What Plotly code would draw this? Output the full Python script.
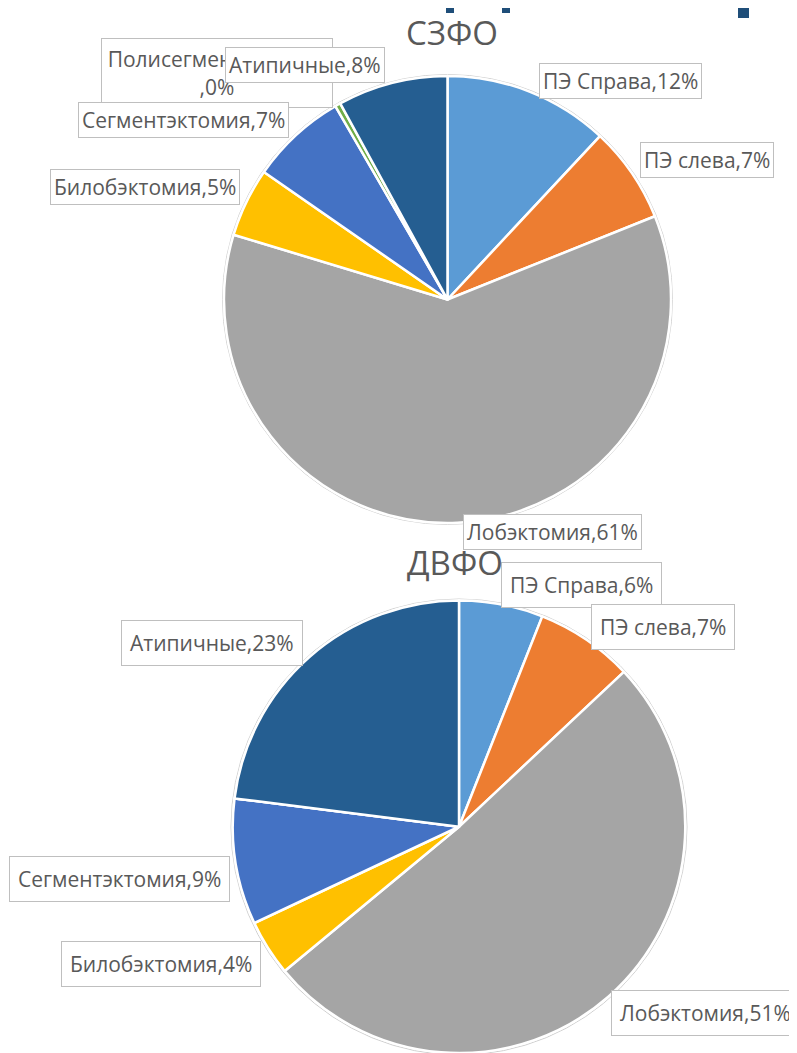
import plotly.graph_objects as go

# page body has an 8px margin; the figure is sized to the remaining area
OFF = 8
W, H = 797 - OFF, 1053 - OFF

categories = ["ПЭ Справа", "ПЭ слева", "Лобэктомия", "Билобэктомия",
              "Сегментэктомия", "Полисегментэктомия", "Атипичные"]
szfo_values = [12, 7, 61, 5, 7, 0.4, 8]
dvfo_values = [6, 7, 51, 4, 9, 0, 23]
colors = ["#5B9BD5", "#ED7D31", "#A5A5A5", "#FFC000", "#4472C4", "#70AD47", "#255E91"]

FONT = "Open Sans, Noto Sans, DejaVu Sans, sans-serif"
GREY = "#595959"

def px(x):
    return (x - OFF) / W

def py(y):
    return 1 - (y - OFF) / H

fig = go.Figure()

# pies: (values, title, centre px, radius px)
pies = [
    (szfo_values, "СЗФО", (447.5, 299.5), 223.5),
    (dvfo_values, "ДВФО", (459, 827), 226.5),
]
for vals, name, (cx, cy), r in pies:
    fig.add_trace(go.Pie(
        labels=categories, values=vals, sort=False, direction="clockwise",
        rotation=0, textinfo="none", showlegend=False, name=name,
        marker=dict(colors=colors, line=dict(color="white", width=2.5)),
        domain=dict(x=[px(cx - r), px(cx + r)],
                    y=[max(0, py(cy + r)), py(cy - r)]),
    ))
    fig.add_shape(type="circle", xref="paper", yref="paper", layer="below",
                  x0=px(cx - r - 1.5), x1=px(cx + r + 1.5),
                  y0=py(cy + r + 1.5), y1=py(cy - r - 1.5),
                  line=dict(color="#D0D0D0", width=1), fillcolor="white")

# label placement (pixel centres of the label boxes), per chart
szfo_label_pos = {
    "Полисегментэктомия": (217, 73),
    "ПЭ Справа": (620, 81),
    "ПЭ слева": (707, 160),
    "Лобэктомия": (552, 532),
    "Билобэктомия": (145, 187),
    "Сегментэктомия": (183, 120),
    "Атипичные": (305, 65),
}
dvfo_label_pos = {
    "ПЭ Справа": (581, 585),
    "ПЭ слева": (663, 627),
    "Лобэктомия": (705, 1013),
    "Билобэктомия": (161, 964),
    "Сегментэктомия": (119, 879),
    "Атипичные": (212, 643),
}

def add_labels(vals, pos, pad):
    total = sum(vals)
    order = ["Полисегментэктомия", "ПЭ Справа", "ПЭ слева", "Лобэктомия",
             "Билобэктомия", "Сегментэктомия", "Атипичные"]
    for cat in order:
        if cat not in pos:
            continue
        v = vals[categories.index(cat)]
        pct = round(v / total * 100)
        x, y = pos[cat]
        common = dict(x=px(x), y=py(y), xref="paper", yref="paper",
                      xanchor="center", yanchor="middle", showarrow=False,
                      font=dict(family=FONT, size=21, color=GREY),
                      bgcolor="white", bordercolor="#BFBFBF", borderwidth=1)
        if cat == "Полисегментэктомия":
            fig.add_annotation(text=f"{cat}<br>,{pct}%", width=224, height=62,
                               align="center", valign="middle", borderpad=3,
                               **common)
        else:
            fig.add_annotation(text=f"{cat},{pct}%", borderpad=pad, **common)

add_labels(szfo_values, szfo_label_pos, 3)
add_labels(dvfo_values, dvfo_label_pos, 8)

# titles
for name, (tx, ty) in [("СЗФО", (452, 32)), ("ДВФО", (455, 562))]:
    fig.add_annotation(x=px(tx), y=py(ty), xref="paper", yref="paper", text=name,
                       xanchor="center", yanchor="middle", showarrow=False,
                       font=dict(family=FONT, size=33, color=GREY))

# decorative bars cut off at the top edge of the slide
for x0, x1, y1 in [(446, 454, 13), (502, 510, 13), (738, 749, 18)]:
    fig.add_shape(type="rect", xref="paper", yref="paper",
                  x0=px(x0), x1=px(x1), y0=py(y1), y1=1,
                  line=dict(width=0), fillcolor="#1F4E79")

fig.update_layout(width=W, height=H, margin=dict(l=0, r=0, t=0, b=0),
                  paper_bgcolor="white", plot_bgcolor="white")

fig.write_html("out.html")
